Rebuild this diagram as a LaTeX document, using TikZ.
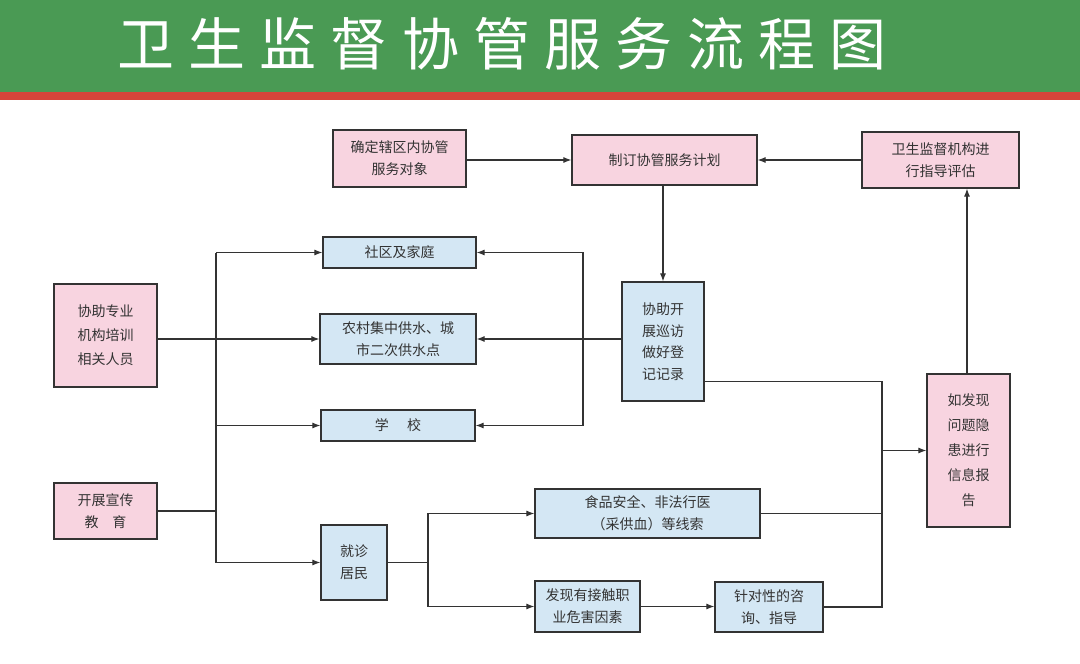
\documentclass[tikz,border=0pt]{standalone}
\usepackage{fontspec}
\setmainfont{Noto Sans CJK SC}
\usetikzlibrary{arrows.meta}
\definecolor{hdrgreen}{HTML}{4A9A54}
\definecolor{hdrred}{HTML}{D6443A}
\definecolor{pinkfill}{HTML}{F8D4E0}
\definecolor{bluefill}{HTML}{D4E7F4}
\definecolor{ink}{HTML}{333333}
\begin{document}
\begin{tikzpicture}[x=1pt,y=-1pt,
  box/.style={draw=ink, line width=1.2pt, font=\fontsize{14}{22}\selectfont, text=ink, align=center, inner sep=0pt},
  pinkbox/.style={box, fill=pinkfill},
  bluebox/.style={box, fill=bluefill},
  conn/.style={draw=ink, line width=1.1pt},
  arr/.style={conn, -{Latex[length=8pt,width=6pt]}}]
\useasboundingbox (0,0) rectangle (1080,664);
\fill[white] (0,0) rectangle (1080,664);
% header
\fill[hdrgreen] (0,0) rectangle (1080,92);
\fill[hdrred] (0,92) rectangle (1080,100);
\node[text=white, font=\fontsize{57}{60}\selectfont\addfontfeature{LetterSpace=25}] (title) at (502,44) {卫生监督协管服务流程图};
% top row
\node[pinkbox, minimum width=133pt, minimum height=57pt] (B1) at (399.5,158.5) {确定辖区内协管\\服务对象};
\node[pinkbox, minimum width=185pt, minimum height=50pt] (B2) at (664.5,160) {制订协管服务计划};
\node[pinkbox, minimum width=157pt, minimum height=56pt] (B3) at (940.5,160) {卫生监督机构进\\行指导评估};
% left
\node[pinkbox, minimum width=103pt, minimum height=103pt, font=\fontsize{14}{24}\selectfont] (L1) at (105.5,335.5) {协助专业\\机构培训\\相关人员};
\node[pinkbox, minimum width=103pt, minimum height=56pt] (L2) at (105.5,511) {开展宣传\\教\hspace{1em}育};
% middle column
\node[bluebox, minimum width=153pt, minimum height=31pt] (C1) at (399.5,252.5) {社区及家庭};
\node[bluebox, minimum width=156pt, minimum height=50pt] (C2) at (398,339) {农村集中供水、城\\市二次供水点};
\node[bluebox, minimum width=154pt, minimum height=31pt] (C3) at (398,425.5) {学\hspace{1.3em}校};
\node[bluebox, minimum width=66pt, minimum height=75pt] (D) at (354,562.5) {就诊\\居民};
% visit & report
\node[bluebox, minimum width=82pt, minimum height=119pt, font=\fontsize{14}{21.5}\selectfont] (V) at (663,341.5) {协助开\\展巡访\\做好登\\记记录};
\node[pinkbox, minimum width=83pt, minimum height=153pt, font=\fontsize{14}{25}\selectfont] (R) at (968.5,450.5) {如发现\\问题隐\\患进行\\信息报\\告};
% findings
\node[bluebox, minimum width=225pt, minimum height=49pt] (F1) at (647.5,513.5) {食品安全、非法行医\\（采供血）等线索};
\node[bluebox, minimum width=105pt, minimum height=51pt] (F2) at (587.5,606.5) {发现有接触职\\业危害因素};
\node[bluebox, minimum width=108pt, minimum height=50pt] (F3) at (769,607) {针对性的咨\\询、指导};
% bus coordinates
\coordinate (lbx) at (216,0);
\coordinate (rbx) at (583,0);
\coordinate (dbx) at (428,0);
\coordinate (rrx) at (882,0);
% top connectors
\draw[arr] (B1.east |- B2.west) -- (B2.west);
\draw[arr] (B3.west) -- (B2.east);
\draw[arr] (V.north |- B2.south) -- (V.north);
\draw[arr] ([xshift=-1.5pt]R.north) -- ([xshift=-1.5pt]R.north |- B3.south);
% left bus
\draw[conn] (lbx |- C1.west) -- (lbx |- D.west);
\draw[arr] (lbx |- C1.west) -- (C1.west);
\draw[arr] (C2.west -| L1.east) -- (C2.west);
\draw[arr] (lbx |- C3.west) -- (C3.west);
\draw[arr] (lbx |- D.west) -- (D.west);
\draw[conn] (L2.east) -- (L2.east -| lbx);
% right bus from visit box
\draw[arr] (rbx |- C3.east) -- (rbx |- C1.east) -- (C1.east);
\draw[arr] (rbx |- C3.east) -- (C3.east);
\draw[arr] (C2.east -| V.west) -- (C2.east);
% residents bus
\draw[conn] (D.east) -- (D.east -| dbx);
\draw[arr] (dbx |- F2.west) -- (dbx |- F1.west) -- (F1.west);
\draw[arr] (dbx |- F2.west) -- (F2.west);
\draw[arr] (F2.east) -- (F2.east -| F3.west);
% report bus
\coordinate (vout) at ([yshift=20pt]V.south east);
\draw[conn] (vout) -| (rrx |- F3.east) -- (F3.east);
\draw[conn] (F1.east) -- (F1.east -| rrx);
\draw[arr] (rrx |- R.west) -- (R.west);
\end{tikzpicture}
\end{document}
